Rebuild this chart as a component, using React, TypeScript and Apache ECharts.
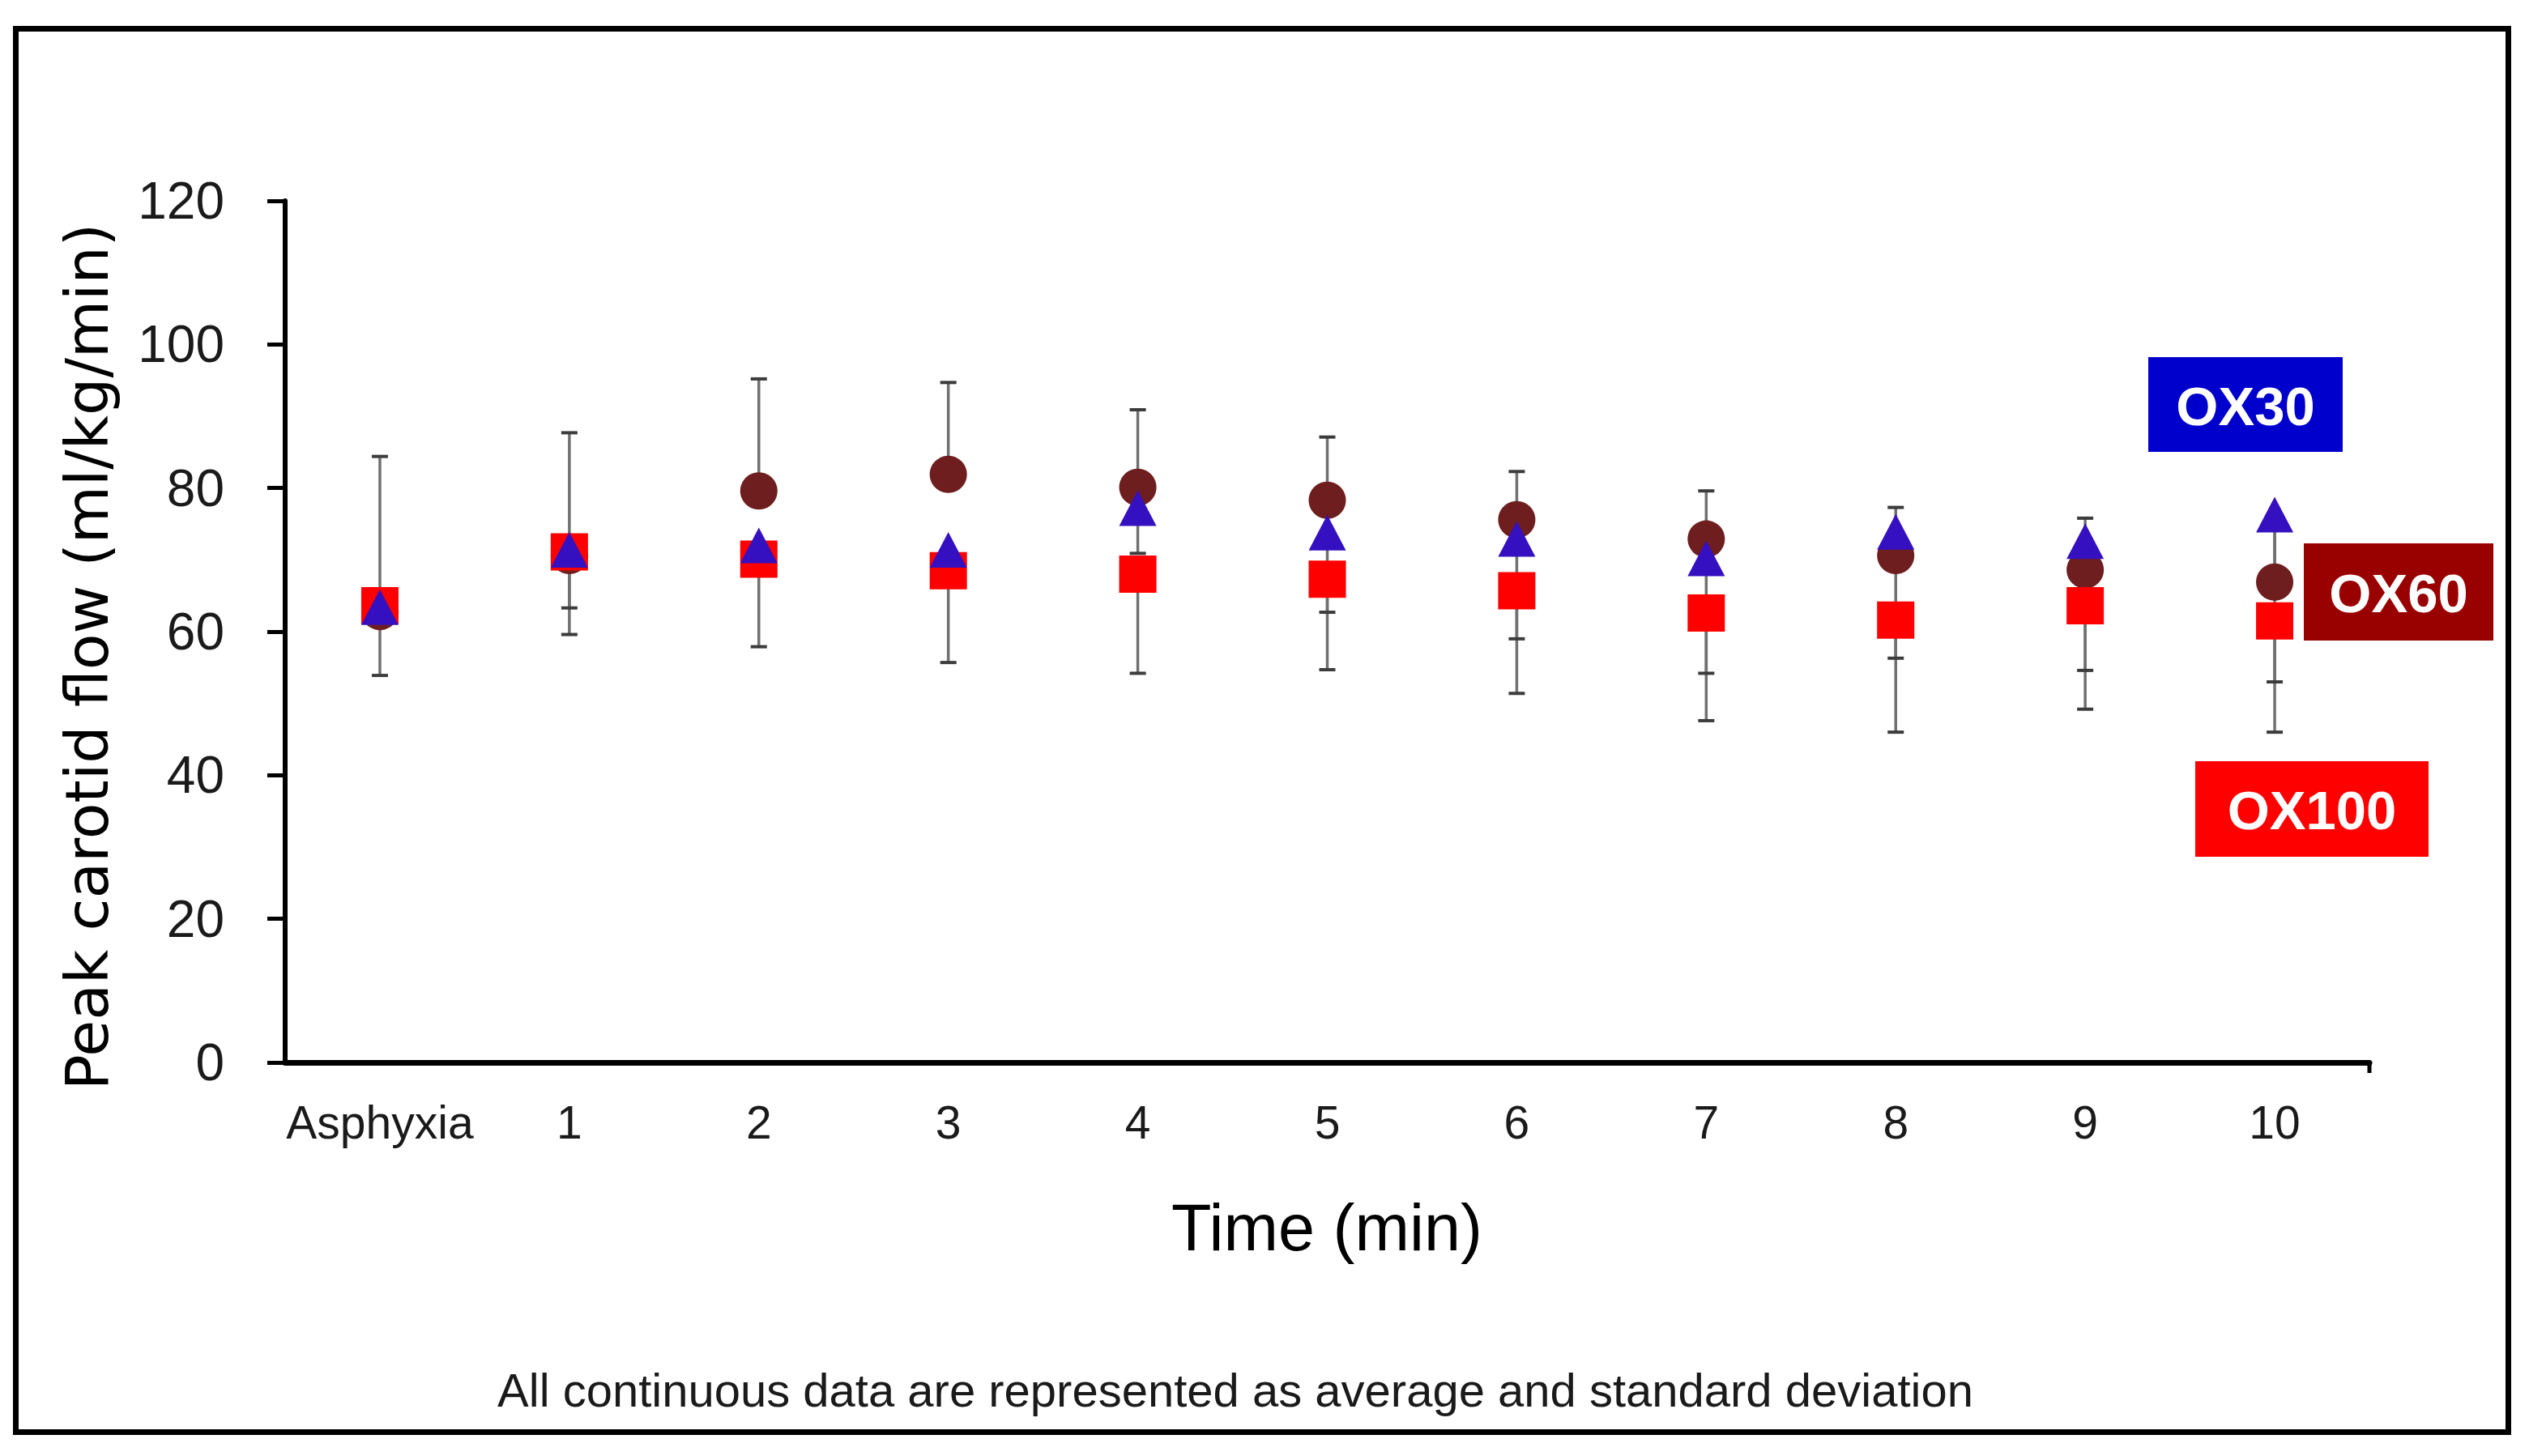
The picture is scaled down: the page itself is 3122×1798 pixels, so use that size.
import React, { useEffect, useRef } from "react";
import * as echarts from "echarts";

const categories = ["Asphyxia", "1", "2", "3", "4", "5", "6", "7", "8", "9", "10"];
const yTicks = { min: 0, max: 120, interval: 20 };

// OX30 (triangles)
const ox30 = [63.4, 71.4, 72.0, 71.4, 77.2, 73.8, 72.9, 70.2, 73.9, 72.6, 76.3];
// OX60 (circles)
const ox60 = [62.8, 70.6, 79.6, 81.9, 80.1, 78.3, 75.6, 72.9, 70.6, 68.6, 66.9];
// OX100 (squares)
const ox100 = [63.6, 71.1, 70.1, 68.5, 68.0, 67.3, 65.7, 62.6, 61.6, 63.6, 61.5];

// error bar ends (one-sided)
const ox60Upper = [84.4, 87.7, 95.2, 94.7, 90.9, 87.1, 82.3, 79.6, 77.3, 75.8, 76.0];
const ox100Lower = [53.9, 59.6, 57.9, 55.7, 54.2, 54.7, 51.4, 47.6, 46.0, 49.2, 46.0];
const ox30Lower: (number | null)[] = [null, 63.3, null, null, 70.9, 62.7, 59.0, 54.2, 56.3, 54.6, 53.0];

const seriesNames = ["OX30", "OX60", "OX100"];
const caption = "All continuous data are represented as average and standard deviation";

function barData(means: number[], ends: (number | null)[]) {
  const out: number[][] = [];
  means.forEach((m, i) => {
    const e = ends[i];
    if (e !== null && e !== undefined) out.push([i, m, e]);
  });
  return out;
}

const renderErr = (params: any, api: any) => {
  const x = api.value(0);
  const from = api.coord([x, api.value(1)]);
  const to = api.coord([x, api.value(2)]);
  return {
    type: "group",
    children: [
      {
        type: "line",
        shape: { x1: from[0], y1: from[1], x2: to[0], y2: to[1] },
        style: { stroke: "#707070", lineWidth: 3.5 },
      },
      {
        type: "line",
        shape: { x1: to[0] - 10, y1: to[1], x2: to[0] + 10, y2: to[1] },
        style: { stroke: "#3c3c3c", lineWidth: 4 },
      },
    ],
  };
};

export default function App() {
  const ref = useRef<HTMLDivElement>(null);
  useEffect(() => {
    if (!ref.current) return;
    const chart = echarts.init(ref.current, null, { renderer: "svg" });
    const labelFont = "Liberation Sans";
    const gridLeft = 352;
    const gridWidth = 2573;
    const gridTop = 248;
    const gridHeight = 1064;
    const option: any = {
      animation: false,
      backgroundColor: "#ffffff",
      grid: { left: gridLeft, top: gridTop, width: gridWidth, height: gridHeight, containLabel: false },
      xAxis: {
        type: "category",
        data: categories,
        boundaryGap: true,
        axisLine: { lineStyle: { color: "#000", width: 7 } },
        axisTick: { alignWithLabel: true, interval: 0, length: 12, lineStyle: { color: "#000", width: 5 } },
        axisLabel: { interval: 0, margin: 45, fontSize: 57, fontFamily: labelFont, color: "#1a1a1a" },
        splitLine: { show: false },
      },
      yAxis: {
        type: "value",
        min: yTicks.min,
        max: yTicks.max,
        interval: yTicks.interval,
        axisLine: { show: true, lineStyle: { color: "#000", width: 6 } },
        axisTick: { show: true, length: 22, lineStyle: { color: "#000", width: 5 } },
        axisLabel: { margin: 75, fontSize: 64, fontFamily: labelFont, color: "#1a1a1a" },
        splitLine: { show: false },
      },
      series: [
        { type: "custom", name: "OX60 SD", renderItem: renderErr, data: barData(ox60, ox60Upper), z: 2, encode: { x: 0, y: [1, 2] } },
        { type: "custom", name: "OX100 SD", renderItem: renderErr, data: barData(ox100, ox100Lower), z: 2, encode: { x: 0, y: [1, 2] } },
        { type: "custom", name: "OX30 SD", renderItem: renderErr, data: barData(ox30, ox30Lower), z: 2, encode: { x: 0, y: [1, 2] } },
        {
          type: "scatter", name: seriesNames[1], data: ox60.map((v, i) => [i, v]),
          symbol: "circle", symbolSize: 46, itemStyle: { color: "#6e1e1e", opacity: 1 }, z: 3,
        },
        {
          type: "scatter", name: seriesNames[2], data: ox100.map((v, i) => [i, v]),
          symbol: "rect", symbolSize: 46, itemStyle: { color: "#ff0000", opacity: 1 }, z: 4,
        },
        {
          type: "scatter", name: seriesNames[0], data: ox30.map((v, i) => [i, v]),
          symbol: "triangle", symbolSize: [46, 44], itemStyle: { color: "#3510c0", opacity: 1 }, z: 5,
        },
      ],
      graphic: [
        {
          type: "rect", shape: { x: 19.5, y: 35.5, width: 3077, height: 1733 },
          style: { fill: "none", stroke: "#000", lineWidth: 7 }, z: 100,
        },
        {
          type: "line",
          shape: { x1: gridLeft + gridWidth, y1: gridTop + gridHeight, x2: gridLeft + gridWidth, y2: gridTop + gridHeight + 13 },
          style: { stroke: "#000", lineWidth: 5 },
        },
        {
          type: "text", x: 107, y: 811, rotation: Math.PI / 2,
          style: { text: "Peak carotid flow (ml/kg/min)", fontSize: 73, fontFamily: "DejaVu Sans", fill: "#000", align: "center", verticalAlign: "middle" },
        },
        {
          type: "text", x: 1638, y: 1516,
          style: { text: "Time (min)", fontSize: 81, fontFamily: labelFont, fill: "#000", align: "center", verticalAlign: "middle" },
        },
        {
          type: "text", x: 1525, y: 1716,
          style: { text: caption, fontSize: 58, fontFamily: labelFont, fill: "#1a1a1a", align: "center", verticalAlign: "middle" },
        },
        { type: "rect", shape: { x: 2652, y: 441, width: 240, height: 117 }, style: { fill: "#0000cc" } },
        {
          type: "text", x: 2772, y: 501,
          style: { text: seriesNames[0], fontSize: 67, fontWeight: "bold", fontFamily: labelFont, fill: "#fff", align: "center", verticalAlign: "middle" },
        },
        { type: "rect", shape: { x: 2844, y: 671, width: 234, height: 120 }, style: { fill: "#990000" } },
        {
          type: "text", x: 2961, y: 732,
          style: { text: seriesNames[1], fontSize: 67, fontWeight: "bold", fontFamily: labelFont, fill: "#fff", align: "center", verticalAlign: "middle" },
        },
        { type: "rect", shape: { x: 2710, y: 940, width: 288, height: 118 }, style: { fill: "#ff0000" } },
        {
          type: "text", x: 2854, y: 1000,
          style: { text: seriesNames[2], fontSize: 67, fontWeight: "bold", fontFamily: labelFont, fill: "#fff", align: "center", verticalAlign: "middle" },
        },
      ],
    };
    chart.setOption(option);
    return () => chart.dispose();
  }, []);
  return (
    <div
      ref={ref}
      style={{ position: "fixed", left: 0, top: 0, width: 3122, height: 1798, background: "#fff" }}
    />
  );
}
